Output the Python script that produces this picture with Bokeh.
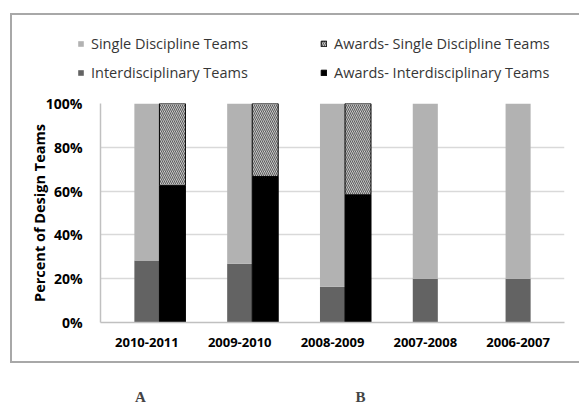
from bokeh.plotting import figure
from bokeh.layouts import column
from bokeh.models import (FactorRange, Legend, LegendItem, NumeralTickFormatter,
                          FixedTicker, Label, ColumnDataSource, Range1d, InlineStyleSheet)
from bokeh.transform import dodge
from bokeh.embed import file_html
from bokeh.resources import INLINE

years = ["2010-2011", "2009-2010", "2008-2009", "2007-2008", "2006-2007"]
interdisciplinary = [0.283, 0.268, 0.163, 0.20, 0.20]
single_discipline = [0.717, 0.732, 0.837, 0.80, 0.80]
awards_interdisciplinary = [0.625, 0.667, 0.583, float("nan"), float("nan")]
awards_single = [0.375, 0.333, 0.417, float("nan"), float("nan")]
y_ticks = [0, 0.2, 0.4, 0.6, 0.8, 1.0]
series_names = ["Single Discipline Teams", "Interdisciplinary Teams",
                "Awards- Single Discipline Teams", "Awards- Interdisciplinary Teams"]
panel_labels = ["A", "B"]

COL_SINGLE = "#b2b2b2"
COL_INTER = "#636363"
COL_AWARD_INTER = "black"
COL_AWARD_SINGLE = "#e2e2e2"
HATCH = dict(hatch_color="#5a5a5a", hatch_scale=4, hatch_weight=1.1)

src = ColumnDataSource(dict(years=years, inter=interdisciplinary, single=single_discipline,
                            ainter=awards_interdisciplinary, asingle=awards_single))

box_css = InlineStyleSheet(css="""
:host { position: relative; }
:host::after {
  content: "";
  position: absolute;
  box-sizing: border-box;
  left: 10px; top: 13px;
  width: 569px; height: 350px;
  border-left: 2px solid #a8a8a8;
  border-top: 2px solid #a8a8a8;
  border-bottom: 2px solid #a8a8a8;
  pointer-events: none;
  z-index: 10;
}
""")

# ---- legend strip (top) ----
p0 = figure(width=579, height=88, x_range=Range1d(0, 1), y_range=Range1d(0, 1),
            output_backend="svg", toolbar_location=None, min_border=0,
            min_border_left=0, min_border_right=0, min_border_top=0, min_border_bottom=0)
p0.frame_align = False
p0.axis.visible = False
p0.grid.visible = False
p0.outline_line_color = None
# legend-key renderers: one undefined (NaN) value each, so nothing is drawn in the strip
key_src = ColumnDataSource(dict(x=[0.5], top=[float("nan")]))
g_single = p0.vbar(x="x", top="top", width=0.1, source=key_src, fill_color=COL_SINGLE, line_color=None)
g_inter = p0.vbar(x="x", top="top", width=0.1, source=key_src, fill_color=COL_INTER, line_color=None)
g_asingle = p0.vbar(x="x", top="top", width=0.1, source=key_src, fill_color=COL_AWARD_SINGLE,
                    line_color="black", line_width=1, hatch_pattern="\\", **HATCH)
g_ainter = p0.vbar(x="x", top="top", width=0.1, source=key_src, fill_color=COL_AWARD_INTER,
                   line_color="black", line_width=1)
legend = Legend(items=[LegendItem(label=series_names[0], renderers=[g_single]),
                       LegendItem(label=series_names[1], renderers=[g_inter]),
                       LegendItem(label=series_names[2], renderers=[g_asingle]),
                       LegendItem(label=series_names[3], renderers=[g_ainter])],
                ncols=2, location=(77, 6), padding=0, margin=0, spacing=9,
                glyph_width=7, glyph_height=7, label_standoff=7, label_width=220,
                label_height=20, border_line_color=None, background_fill_alpha=0,
                label_text_font="Open Sans", label_text_font_size="14.5px",
                label_text_color="#363636")
p0.add_layout(legend, "center")

# ---- main chart ----
p = figure(width=579, height=278, x_range=FactorRange(*years), y_range=(0, 1),
           output_backend="svg", toolbar_location=None,
           min_border_left=100, min_border_right=15, min_border_top=15, min_border_bottom=44)
p.frame_align = False
p.outline_line_color = None
p.background_fill_color = "white"
p.border_fill_color = "white"

p.vbar_stack(["inter", "single"], x=dodge("years", 0.0, range=p.x_range),
             width=0.27, source=src, color=[COL_INTER, COL_SINGLE], line_color=None)
p.vbar_stack(["ainter", "asingle"], x=dodge("years", 0.275, range=p.x_range),
             width=0.28, source=src, fill_color=[COL_AWARD_INTER, COL_AWARD_SINGLE],
             line_color="black", line_width=1, hatch_pattern=[" ", "\\"], **HATCH)

p.yaxis.ticker = FixedTicker(ticks=y_ticks)
p.yaxis.formatter = NumeralTickFormatter(format="0%")
p.yaxis.axis_line_color = "#c0c0c0"
p.yaxis.axis_line_width = 1.5
p.yaxis.major_tick_line_color = None
p.yaxis.minor_tick_line_color = None
p.yaxis.major_label_standoff = 12
p.yaxis.major_label_text_font = "Open Sans"
p.yaxis.major_label_text_font_style = "bold"
p.yaxis.major_label_text_font_size = "14px"
p.yaxis.major_label_text_color = "black"
p.yaxis.axis_label = "Percent of Design Teams"
p.yaxis.axis_label_text_font = "Open Sans"
p.yaxis.axis_label_text_font_style = "bold"
p.yaxis.axis_label_text_font_size = "14.5px"
p.yaxis.axis_label_text_color = "black"
p.yaxis.axis_label_standoff = -6

p.xaxis.axis_line_color = "#c0c0c0"
p.xaxis.axis_line_width = 1.5
p.xaxis.major_tick_line_color = None
p.xaxis.minor_tick_line_color = None
p.xaxis.major_label_standoff = 9
p.xaxis.major_label_text_font = "Open Sans"
p.xaxis.major_label_text_font_style = "bold"
p.xaxis.major_label_text_font_size = "13px"
p.xaxis.major_label_text_color = "black"

p.xgrid.grid_line_color = None
p.ygrid.grid_line_color = "#d9d9d9"
p.ygrid.grid_line_width = 1.5

# ---- panel letters (bottom) ----
p2 = figure(width=579, height=38, x_range=Range1d(0, 579), y_range=Range1d(38, 0),
            output_backend="svg", toolbar_location=None, min_border=0,
            min_border_left=0, min_border_right=0, min_border_top=0, min_border_bottom=0)
p2.frame_align = False
p2.axis.visible = False
p2.grid.visible = False
p2.outline_line_color = None
for txt, xc in zip(panel_labels, [140, 360]):
    p2.add_layout(Label(x=xc, y=30, text=txt,
                        text_font="Liberation Serif", text_font_style="bold",
                        text_font_size="15px", text_align="center", text_baseline="middle"))

layout = column(p0, p, p2, spacing=0)
layout.stylesheets = [box_css]
open("out.html", "w").write(file_html(layout, INLINE))
